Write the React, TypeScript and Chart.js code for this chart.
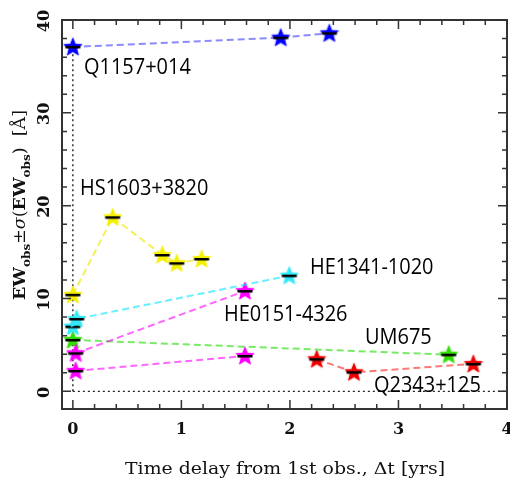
import React, { useEffect, useRef } from 'react';
import { Chart, registerables } from 'chart.js';
Chart.register(...registerables);

// ---- data (Δt in years, EW in Å) ----
const q1157X = [0, 1.915, 2.363];
const q1157Y = [37.1, 38.1, 38.57];
const hs1603X = [0, 0.367, 0.824, 0.957, 1.187];
const hs1603Y = [10.4, 18.75, 14.69, 13.8, 14.26];
const he1341X = [0, 0.035, 1.994];
const he1341Y = [6.97, 7.8, 12.46];
const he0151aX = [0.026, 1.586];
const he0151aY = [4.1, 10.81];
const he0151bX = [0.026, 1.586];
const he0151bY = [2.2, 3.81];
const um675X = [0, 3.463];
const um675Y = [5.54, 3.95];
const q2343X = [2.247, 2.59, 3.69];
const q2343Y = [3.46, 2.06, 2.95];

// ---- axes ----
const xMajorTicks = [0, 1, 2, 3, 4];
const xTickLabels = ['0', '1', '2', '3', '4'];
const yMajorTicks = [0, 10, 20, 30, 40];
const yTickLabels = ['0', '10', '20', '30', '40'];
const xMinorStep = 0.2;
const yMinorStep = 2;
const xTitle = 'Time delay from 1st obs., \u0394t [yrs]';

// ---- object labels ----
const objectNames = ['Q1157+014', 'HS1603+3820', 'HE1341-1020', 'HE0151-4326', 'UM675', 'Q2343+125'];
const nameX = [0.103, 0.066, 2.185, 1.393, 2.692, 2.775];
const nameY = [34.19, 21.15, 12.61, 7.62, 5.1, -0.06];

function pts(xs: number[], ys: number[]) {
  return xs.map((x, i) => ({ x, y: ys[i] }));
}

function makeStar(color: string): HTMLCanvasElement {
  const c = document.createElement('canvas');
  c.width = 26;
  c.height = 26;
  const ctx = c.getContext('2d')!;
  const cx = 13, cy = 13.5, R = 10, r = 4.2;
  ctx.shadowColor = color;
  ctx.shadowBlur = 1.5;
  ctx.beginPath();
  for (let i = 0; i < 10; i++) {
    const a = -Math.PI / 2 + (i * Math.PI) / 5;
    const rad = i % 2 === 0 ? R : r;
    ctx.lineTo(cx + rad * Math.cos(a), cy + rad * Math.sin(a));
  }
  ctx.closePath();
  ctx.fillStyle = color;
  ctx.fill();
  ctx.shadowBlur = 0;
  ctx.fillStyle = '#000';
  ctx.fillRect(cx - 7.5, 12, 15, 2.5);
  return c;
}

const decor = {
  id: 'decor',
  beforeDatasetsDraw(chart: any) {
    const { ctx, scales } = chart;
    const x = scales.x, y = scales.y;
    ctx.save();
    ctx.strokeStyle = '#222';
    ctx.lineWidth = 1.4;
    ctx.setLineDash([2, 3]);
    ctx.beginPath();
    ctx.moveTo(x.getPixelForValue(0), y.getPixelForValue(0));
    ctx.lineTo(x.getPixelForValue(0), y.getPixelForValue(q1157Y[0]));
    ctx.stroke();
    ctx.beginPath();
    ctx.moveTo(x.getPixelForValue(0), y.getPixelForValue(0));
    ctx.lineTo(x.getPixelForValue(4), y.getPixelForValue(0));
    ctx.stroke();
    ctx.restore();
  },
  afterDraw(chart: any) {
    const { ctx, chartArea: ca, scales } = chart;
    const x = scales.x, y = scales.y;
    ctx.save();
    // frame
    ctx.strokeStyle = '#333';
    ctx.lineWidth = 2;
    ctx.strokeRect(ca.left, ca.top, ca.right - ca.left, ca.bottom - ca.top);
    // ticks
    ctx.lineWidth = 1.5;
    ctx.beginPath();
    for (let v = 0; v <= 4.0001; v += xMinorStep) {
      const major = xMajorTicks.some((m) => Math.abs(m - v) < 1e-6);
      const len = major ? 9 : 5;
      const px = x.getPixelForValue(v);
      ctx.moveTo(px, ca.bottom); ctx.lineTo(px, ca.bottom - len);
      ctx.moveTo(px, ca.top); ctx.lineTo(px, ca.top + len);
    }
    for (let v = 0; v <= 40.0001; v += yMinorStep) {
      const major = yMajorTicks.some((m) => Math.abs(m - v) < 1e-6);
      const len = major ? 9 : 5;
      const py = y.getPixelForValue(v);
      ctx.moveTo(ca.left, py); ctx.lineTo(ca.left + len, py);
      ctx.moveTo(ca.right, py); ctx.lineTo(ca.right - len, py);
    }
    ctx.stroke();
    // tick labels
    ctx.fillStyle = '#111';
    ctx.font = 'bold 16px "DejaVu Serif"';
    ctx.textAlign = 'center';
    ctx.textBaseline = 'middle';
    xMajorTicks.forEach((v, i) => {
      ctx.fillText(xTickLabels[i], x.getPixelForValue(v), 430);
    });
    yMajorTicks.forEach((v, i) => {
      ctx.save();
      ctx.translate(45, y.getPixelForValue(v) + 1);
      ctx.rotate(-Math.PI / 2);
      ctx.fillText(yTickLabels[i], 0, 0);
      ctx.restore();
    });
    // x title
    ctx.font = '17px "DejaVu Serif"';
    ctx.textBaseline = 'alphabetic';
    ctx.textAlign = 'left';
    {
      const w = ctx.measureText(xTitle).width;
      const target = 320;
      ctx.save();
      ctx.translate(125, 474);
      ctx.scale(target / w, 1);
      ctx.fillText(xTitle, 0, 0);
      ctx.restore();
    }
    // y title with subscripts
    {
      const big = 'bold 16px "DejaVu Serif"';
      const small = 'bold 11px "DejaVu Serif"';
      const reg = '16px "DejaVu Serif"';
      const ital = 'italic 16px "DejaVu Serif"';
      const segs: [string, string, number][] = [
        ['EW', big, 0], ['obs', small, 5], ['\u00B1', reg, 0], ['\u03C3', ital, 0], ['(', reg, 0],
        ['EW', big, 0], ['obs', small, 5], [')', reg, 0], ['  [\u00C5]', reg, 0],
      ];
      let total = 0;
      segs.forEach(([t, f]) => { ctx.font = f; total += ctx.measureText(t).width; });
      const target = 190;
      ctx.save();
      ctx.translate(25, 300);
      ctx.rotate(-Math.PI / 2);
      ctx.scale(target / total, 1);
      let u = 0;
      segs.forEach(([t, f, dv]) => {
        ctx.font = f;
        ctx.fillText(t, u, dv);
        u += ctx.measureText(t).width;
      });
      ctx.restore();
    }
    // object labels
    ctx.fillStyle = '#000';
    ctx.font = '21px "Open Sans"';
    ctx.textAlign = 'left';
    ctx.textBaseline = 'alphabetic';
    objectNames.forEach((n, i) => {
      ctx.save();
      ctx.translate(x.getPixelForValue(nameX[i]), y.getPixelForValue(nameY[i]));
      ctx.scale(0.95, 1);
      ctx.fillText(n, 0, 0);
      ctx.restore();
    });
    ctx.restore();
  },
};

export default function App() {
  const ref = useRef<HTMLCanvasElement>(null);
  useEffect(() => {
    const mk = (xs: number[], ys: number[], line: string, fill: string) => ({
      data: pts(xs, ys),
      borderColor: line,
      borderWidth: 2,
      borderDash: [7, 4],
      pointStyle: makeStar(fill),
      pointRadius: 10,
      showLine: true,
      fill: false,
      tension: 0,
    });
    const chart = new Chart(ref.current!, {
      type: 'line',
      data: {
        datasets: [
          mk(hs1603X, hs1603Y, 'rgba(240,230,0,0.65)', '#f5f000'),
          mk(he1341X, he1341Y, 'rgba(0,230,255,0.6)', '#33e8f8'),
          mk(he0151aX, he0151aY, 'rgba(255,0,255,0.6)', '#ff00ff'),
          mk(he0151bX, he0151bY, 'rgba(255,0,255,0.6)', '#ff00ff'),
          mk(um675X, um675Y, 'rgba(30,220,0,0.6)', '#33dd00'),
          mk(q2343X, q2343Y, 'rgba(255,30,30,0.6)', '#ee0000'),
          mk(q1157X, q1157Y, 'rgba(60,60,255,0.6)', '#0000ff'),
        ] as any,
      },
      options: {
        responsive: false,
        devicePixelRatio: 1,
        animation: false,
        layout: { autoPadding: false, padding: { left: 62, top: 20, right: 3, bottom: 74 } },
        plugins: { legend: { display: false }, tooltip: { enabled: false } },
        scales: {
          x: { type: 'linear', min: -0.1, max: 4, display: false },
          y: { type: 'linear', min: -1.9, max: 40, display: false },
        },
        elements: { line: { clip: false } as any },
      } as any,
      plugins: [decor],
    });
    return () => chart.destroy();
  }, []);
  return (
    <div style={{ position: 'fixed', left: 0, top: 0, width: 510, height: 483, background: '#fff' }}>
      <canvas ref={ref} width={510} height={483} style={{ display: 'block' }} />
    </div>
  );
}
